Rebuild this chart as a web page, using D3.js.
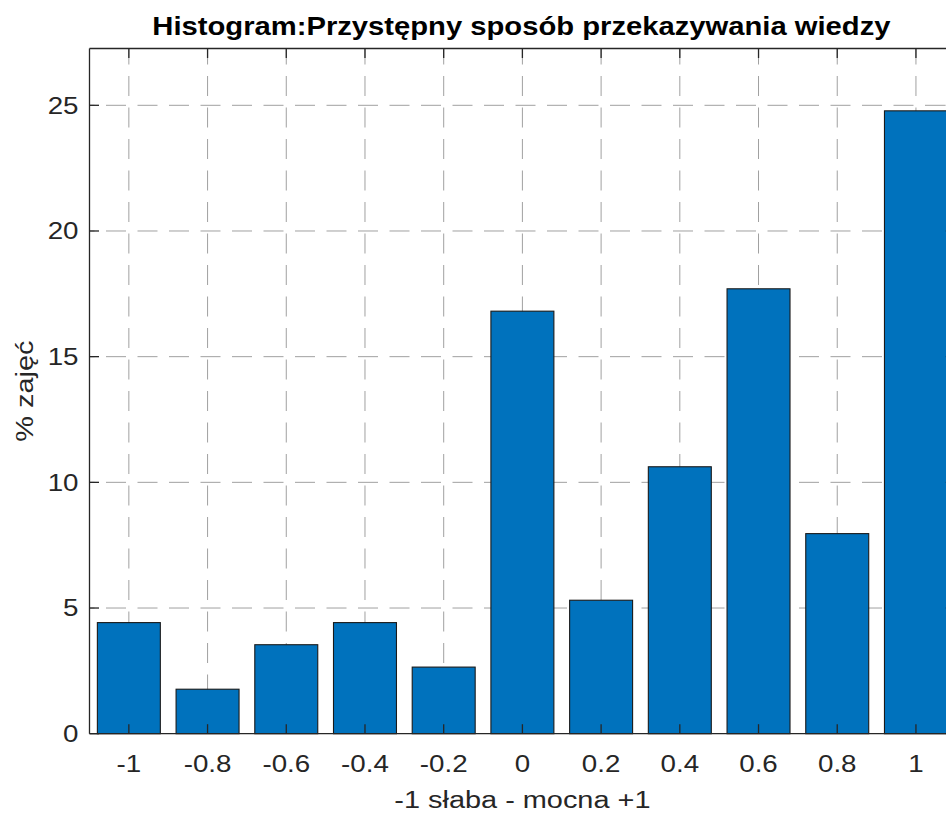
<!DOCTYPE html>
<html>
<head>
<meta charset="utf-8">
<script src="https://cdn.jsdelivr.net/npm/d3@7"></script>
<style>
html,body{margin:0;padding:0;background:#fff;}
svg{display:block;}
</style>
</head>
<body>
<svg id="chart" width="946" height="814"></svg>
<script>
// ---- data ----
const bins = [-1, -0.8, -0.6, -0.4, -0.2, 0, 0.2, 0.4, 0.6, 0.8, 1];
const percents = [4.42, 1.77, 3.54, 4.42, 2.65, 16.81, 5.31, 10.62, 17.70, 7.96, 24.78];
const xTicks = [-1, -0.8, -0.6, -0.4, -0.2, 0, 0.2, 0.4, 0.6, 0.8, 1];
const xTickLabels = ["-1", "-0.8", "-0.6", "-0.4", "-0.2", "0", "0.2", "0.4", "0.6", "0.8", "1"];
const yTicks = [0, 5, 10, 15, 20, 25];
const titleText = "Histogram:Przystępny sposób przekazywania wiedzy";
const xLabelText = "-1 słaba - mocna +1";
const yLabelText = "% zajęć";

// ---- layout ----
const L = 89.5, R = 955.3, T = 48.5, B = 733.7;
const SX = 1.18; // text stretch along its direction
const axisColor = "#262626";
const font = "'Liberation Sans', Arial, Helvetica, sans-serif";

const svg = d3.select("#chart");
const x = d3.scaleLinear().domain([-1.1, 1.1]).range([L, R]);
const y = d3.scaleLinear().domain([0, 27.26]).range([B, T]);
const step = x(0.2) - x(0);
const barW = step * 0.8;

// grid
const grid = svg.append("g");
grid.selectAll("line.vg").data(xTicks).join("line")
  .attr("x1", d => x(d)).attr("x2", d => x(d))
  .attr("y1", T).attr("y2", B)
  .attr("stroke", "#a0a0a0").attr("stroke-width", 1)
  .attr("stroke-dasharray", "20,11.5").attr("stroke-dashoffset", 4);
grid.selectAll("line.hg").data(yTicks.filter(d => d > 0)).join("line")
  .attr("x1", L).attr("x2", R)
  .attr("y1", d => y(d)).attr("y2", d => y(d))
  .attr("stroke", "#a0a0a0").attr("stroke-width", 1)
  .attr("stroke-dasharray", "20,11.5").attr("stroke-dashoffset", 15);

// bars
svg.append("g").selectAll("rect").data(bins).join("rect")
  .attr("x", (d) => x(d) - barW / 2)
  .attr("width", barW)
  .attr("y", (d, i) => y(percents[i]))
  .attr("height", (d, i) => y(0) - y(percents[i]))
  .attr("fill", "#0072BD")
  .attr("stroke", "#1a1a1a").attr("stroke-width", 1.1);

// axes (MATLAB style: inward ticks, box)
const tickLen = 9.5;
const ax = svg.append("g").attr("stroke", axisColor).attr("stroke-width", 1.3).attr("fill", "none");
ax.append("line").attr("x1", L).attr("x2", R).attr("y1", B).attr("y2", B);
ax.append("line").attr("x1", L).attr("x2", R).attr("y1", T).attr("y2", T);
ax.append("line").attr("x1", L).attr("x2", L).attr("y1", T).attr("y2", B);
ax.append("line").attr("x1", R).attr("x2", R).attr("y1", T).attr("y2", B);
xTicks.forEach(t => {
  ax.append("line").attr("x1", x(t)).attr("x2", x(t)).attr("y1", B).attr("y2", B - tickLen);
  ax.append("line").attr("x1", x(t)).attr("x2", x(t)).attr("y1", T).attr("y2", T + tickLen);
});
yTicks.forEach(t => {
  ax.append("line").attr("x1", L).attr("x2", L + tickLen).attr("y1", y(t)).attr("y2", y(t));
  ax.append("line").attr("x1", R).attr("x2", R - tickLen).attr("y1", y(t)).attr("y2", y(t));
});

function stretchedText(px, py, txt, size, anchor, weight, rotate, sx) {
  const g = svg.append("g").attr("transform",
    `translate(${px},${py})` + (rotate ? ` rotate(${rotate})` : "") + ` scale(${sx || SX},1)`);
  g.append("text").text(txt)
    .attr("x", 0).attr("y", 0)
    .attr("text-anchor", anchor)
    .attr("font-family", font)
    .attr("font-size", size)
    .attr("font-weight", weight || "normal")
    .attr("fill", weight === "bold" ? "#000" : axisColor);
  return g;
}

// tick labels
xTicks.forEach((t, i) => stretchedText(x(t), 772, xTickLabels[i], 23.5, "middle"));
yTicks.forEach(t => stretchedText(L - 11, y(t) + 8.3, String(t), 23.5, "end"));

// labels and title
stretchedText((L + R) / 2, 807.5, xLabelText, 24.5, "middle");
stretchedText(32.5, (T + B) / 2, yLabelText, 24.5, "middle", null, -90);
stretchedText((L + R) / 2 - 1, 35, titleText, 25.5, "middle", "bold", null, 1.145);
</script>
</body>
</html>
